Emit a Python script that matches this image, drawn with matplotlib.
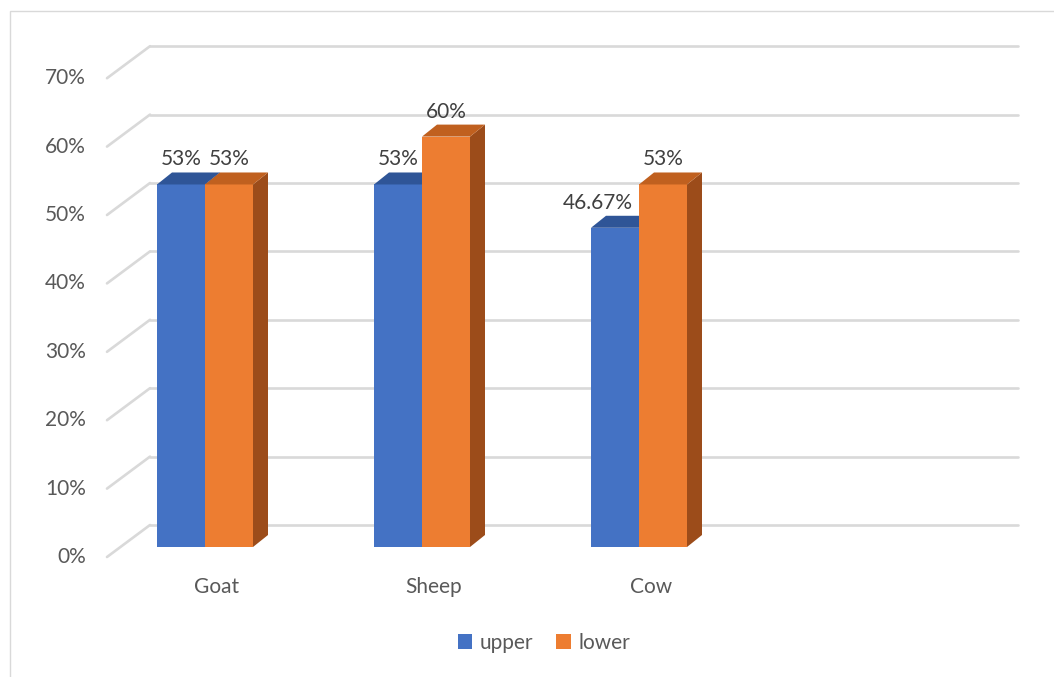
import matplotlib.pyplot as plt
from matplotlib.patches import Polygon, Rectangle, Patch

categories = ['Goat', 'Sheep', 'Cow']
upper = [53, 53, 46.67]
lower = [53, 60, 53]
upper_labels = ['53%', '53%', '46.67%']
lower_labels = ['53%', '60%', '53%']
yticks = [0, 10, 20, 30, 40, 50, 60, 70]
n_slots = 4  # the floor leaves room for one empty category

plt.rcParams['font.family'] = ['Lato', 'DejaVu Sans']

W, H = 1054, 677
px_x = 217.0   # pixels per category
px_y = 6.84    # pixels per percent
x0_px, y0_px = 205, 547  # first group centre / bar floor, in pixels


def dx(p):
    return p / px_x


def dy(p):
    return p / px_y


fig = plt.figure(figsize=(W / 100, H / 100), dpi=100)
ax = fig.add_axes([0, 0, 1, 1])
ax.set_xlim(-dx(x0_px), dx(W - x0_px))
ax.set_ylim(-dy(H - y0_px), dy(y0_px))
ax.axis('off')

grid_c = '#d9d9d9'
tick_c = '#595959'
label_c = '#404040'
fs = 15

# oblique offsets for the floor / back wall / bar depth
front_x, front_y = -0.5 + dx(10.5), -dy(10)
back_x, back_y = -0.5 + dx(53.5), dy(22)
bar_w = dx(48)
depth_x, depth_y = dx(15), dy(12)

# gridlines: a diagonal on the side wall and a line across the back wall
for t in yticks:
    ax.plot([front_x, back_x], [t + front_y, t + back_y], color=grid_c, lw=1.9,
            solid_capstyle='round', zorder=1)
    ax.plot([back_x, back_x + n_slots], [t + back_y, t + back_y], color=grid_c,
            lw=1.9, solid_capstyle='round', zorder=1)
    ax.text(front_x - dx(21), t + front_y, f'{t}%', ha='right', va='center',
            fontsize=fs, color=tick_c)

for i, name in enumerate(categories):
    ax.text(i + dx(12), -dy(40), name, ha='center', va='center', fontsize=fs,
            color=tick_c)

series = [
    (upper, upper_labels, '#4472c4', '#2f5597', '#2a4c87'),
    (lower, lower_labels, '#ed7d31', '#c0601f', '#9c4c1a'),
]


def draw_bar(x, v, front, top, side):
    ax.add_patch(Polygon([(x + bar_w, 0), (x + bar_w + depth_x, depth_y),
                          (x + bar_w + depth_x, v + depth_y), (x + bar_w, v)],
                         closed=True, fc=side, ec='none', zorder=3))
    ax.add_patch(Rectangle((x, 0), bar_w, v, fc=front, ec='none', zorder=3))
    ax.add_patch(Polygon([(x, v), (x + bar_w, v),
                          (x + bar_w + depth_x, v + depth_y), (x + depth_x, v + depth_y)],
                         closed=True, fc=top, ec='none', zorder=3))


# label nudges (pixels) so the Cow labels do not collide
nudge = {(0, 2): -17}

for i in range(len(categories)):
    for s, (vals, labs, front, top, side) in enumerate(series):
        x = i - bar_w + s * bar_w
        v = vals[i]
        draw_bar(x, v, front, top, side)
        ax.text(x + bar_w / 2 + dx(nudge.get((s, i), 0)), v + depth_y + dy(13),
                labs[i], ha='center', va='center', fontsize=fs, color=label_c,
                zorder=4)

handles = [Patch(fc='#4472c4', label='upper'), Patch(fc='#ed7d31', label='lower')]
fig.legend(handles=handles, loc='center', bbox_to_anchor=(0.516, 1 - 643 / H),
           ncol=2, frameon=False, fontsize=fs, handlelength=0.7, handleheight=0.7,
           handletextpad=0.35, columnspacing=1.1, labelcolor=tick_c)

# chart area border (only the left and top edges fall inside the image)
fig.add_artist(Rectangle((10 / W, -0.1), 1.2, 1.1 - 11 / H, transform=fig.transFigure,
                         fill=False, ec='#d9d9d9', lw=1))

fig.savefig('out.png', dpi=100)
